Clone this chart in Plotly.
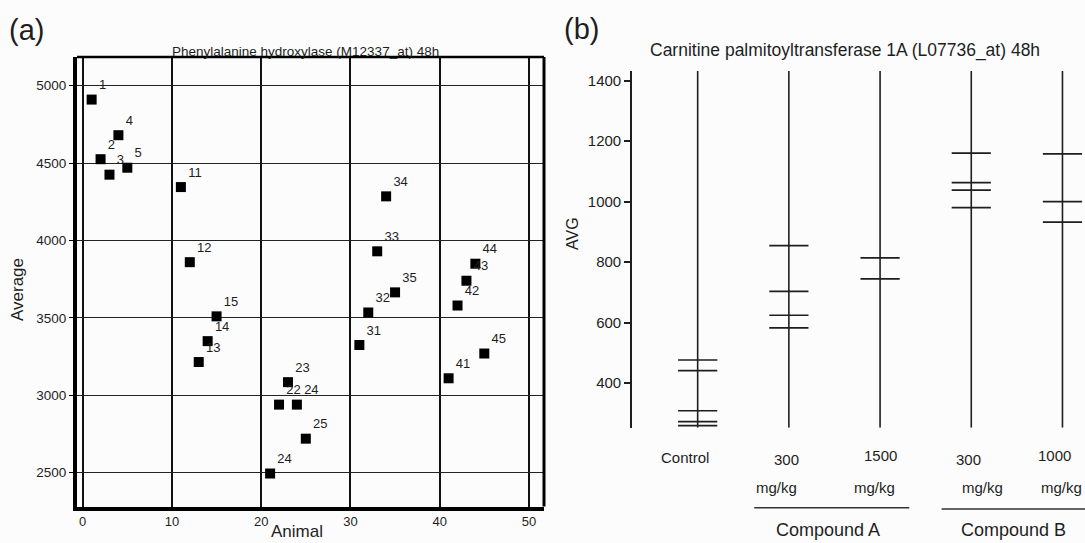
import plotly.graph_objects as go

# ---------------- Panel (a) data ----------------
animal = [1, 2, 3, 4, 5, 11, 12, 13, 14, 15, 21, 22, 23, 24, 25,
          31, 32, 33, 34, 35, 41, 42, 43, 44, 45]
average = [4910, 4525, 4425, 4680, 4470, 4345, 3860, 3215, 3350, 3510,
           2495, 2940, 3085, 2940, 2720, 3325, 3535, 3930, 4285, 3665,
           3110, 3580, 3740, 3850, 3270]
point_labels = ["1", "2", "3", "4", "5", "11", "12", "13", "14", "15",
                "24", "22", "23", "24", "25", "31", "32", "33", "34", "35",
                "41", "42", "43", "44", "45"]
a_xticks = [0, 10, 20, 30, 40, 50]
a_yticks = [2500, 3000, 3500, 4000, 4500, 5000]
a_title = "Phenylalanine hydroxylase (M12337_at) 48h"

# ---------------- Panel (b) data ----------------
dose_labels = ["Control", "300", "1500", "300", "1000"]
unit_labels = ["", "mg/kg", "mg/kg", "mg/kg", "mg/kg"]
group_values = [
    [476, 441, 308, 272, 259],
    [854, 703, 624, 582],
    [814, 744],
    [1160, 1063, 1038, 980],
    [1158, 1000, 932],
]
compounds = ["Compound A", "Compound B"]
b_yticks = [400, 600, 800, 1000, 1200, 1400]
b_title = "Carnitine palmitoyltransferase 1A (L07736_at) 48h"

# ---------------- layout helpers ----------------
W, H = 1085, 543
FONT = "Liberation Sans, Arial, Helvetica, sans-serif"
INK = "#1e1e1e"


def fx(p):
    return p / W


def fy(p):
    return 1 - p / H


A_XRANGE = [-0.64, 51.69]
A_YRANGE = [2282, 5185]
B_XRANGE = [-0.72, 4.247]
B_YRANGE = [252, 1432]

fig = go.Figure()

# Panel (a) scatter
fig.add_trace(go.Scatter(
    x=animal, y=average, text=point_labels,
    mode="markers+text", textposition="top right",
    textfont=dict(family=FONT, size=13, color=INK),
    marker=dict(symbol="square", size=10, color="black"),
    cliponaxis=False, showlegend=False, xaxis="x", yaxis="y",
))

# Panel (b) vertical lines (one per group, full axis height)
vx, vy = [], []
for i in range(len(dose_labels)):
    vx += [i, i, None]
    vy += [B_YRANGE[0], B_YRANGE[1], None]
fig.add_trace(go.Scatter(
    x=vx, y=vy, mode="lines", line=dict(color=INK, width=1.6),
    showlegend=False, xaxis="x2", yaxis="y2", cliponaxis=False,
))

# Panel (b) horizontal ticks for each value
tx, ty = [], []
for i, vals in enumerate(group_values):
    for v in vals:
        tx.append(i)
        ty.append(v)
fig.add_trace(go.Scatter(
    x=tx, y=ty, mode="markers",
    marker=dict(symbol="line-ew", size=28, line=dict(color=INK, width=1.7)),
    showlegend=False, xaxis="x2", yaxis="y2", cliponaxis=False,
))


def ann(text, x, y, size, xref="paper", angle=0, xshift=0, yanchor="middle"):
    return dict(text=text, x=x, y=y, xref=xref, yref="paper",
                xanchor="center", yanchor=yanchor, textangle=angle,
                xshift=xshift, showarrow=False,
                font=dict(family=FONT, size=size, color=INK))


annotations = [
    ann("(a)", fx(26.5), fy(30), 29),
    ann("(b)", fx(581), fy(29), 29),
    ann(a_title, fx(305), fy(52), 13.5),
    ann(b_title, fx(845), fy(51), 17.5),
    ann("Average", fx(17), fy(290), 17, angle=-90),
    ann("Animal", fx(297), fy(542.5), 17, yanchor="bottom"),
    ann("AVG", fx(572), fy(234), 16, angle=-90),
]

# group labels (panel b)
dose_shift = [-12.7, -2.6, 0.7, -2.7, -7.6]
dose_y = [457.7, 459, 455.7, 459, 455.7]
unit_shift = [0, -12.3, -5.3, 11.7, -1]
for i, lab in enumerate(dose_labels):
    annotations.append(ann(lab, i, fy(dose_y[i]), 15, xref="x2", xshift=dose_shift[i]))
    if unit_labels[i]:
        annotations.append(ann(unit_labels[i], i, fy(487.7), 15, xref="x2",
                               xshift=unit_shift[i]))
comp_x = [1.432, 3.46]
for i, c in enumerate(compounds):
    annotations.append(ann(c, comp_x[i], fy(530), 18, xref="x2"))

shapes = [
    # panel (a) top and right borders
    dict(type="line", xref="x domain", yref="y domain", x0=0, x1=1, y0=1, y1=1,
         line=dict(color="black", width=2.5)),
    dict(type="line", xref="x domain", yref="y domain", x0=1, x1=1, y0=0, y1=1,
         line=dict(color="black", width=3)),
    # compound underlines
    dict(type="line", xref="x2", yref="paper", x0=0.62, x1=2.32, y0=fy(507.7), y1=fy(507.7),
         line=dict(color="#333", width=1.6)),
    dict(type="line", xref="x2", yref="paper", x0=2.675, x1=4.3, y0=fy(509), y1=fy(509),
         line=dict(color="#333", width=1.6)),
]

fig.update_layout(
    width=W, height=H, autosize=False,
    margin=dict(l=0, r=0, t=0, b=0, autoexpand=False),
    paper_bgcolor="#fcfcfc", plot_bgcolor="#fcfcfc",
    font=dict(family=FONT, color=INK),
    showlegend=False,
    xaxis=dict(domain=[fx(77), fx(544)], range=A_XRANGE, tickvals=a_xticks,
               showgrid=True, gridcolor="#111", gridwidth=2,
               showline=True, linecolor="black", linewidth=4,
               zeroline=False, ticks="", tickfont=dict(size=13, color=INK),
               anchor="y"),
    yaxis=dict(domain=[fy(506.5), fy(57)], range=A_YRANGE, tickvals=a_yticks,
               showgrid=True, gridcolor="#222", gridwidth=1.2,
               showline=True, linecolor="black", linewidth=4,
               zeroline=False, ticks="outside", ticklen=4, tickcolor="black",
               tickfont=dict(size=13.5, color=INK), anchor="x"),
    xaxis2=dict(domain=[fx(632), 1], range=B_XRANGE, visible=False, anchor="y2"),
    yaxis2=dict(domain=[fy(427.7), fy(71)], range=B_YRANGE, tickvals=b_yticks,
                showgrid=False, zeroline=False,
                showline=True, linecolor=INK, linewidth=1.6,
                ticks="outside", ticklen=6, tickwidth=1.6, tickcolor=INK,
                tickfont=dict(size=15, color=INK), anchor="x2"),
    annotations=annotations,
    shapes=shapes,
)

fig.write_html(
    "out.html",
    config={"displayModeBar": False},
    post_script="document.body.style.margin='0';document.body.style.overflow='hidden';",
)
